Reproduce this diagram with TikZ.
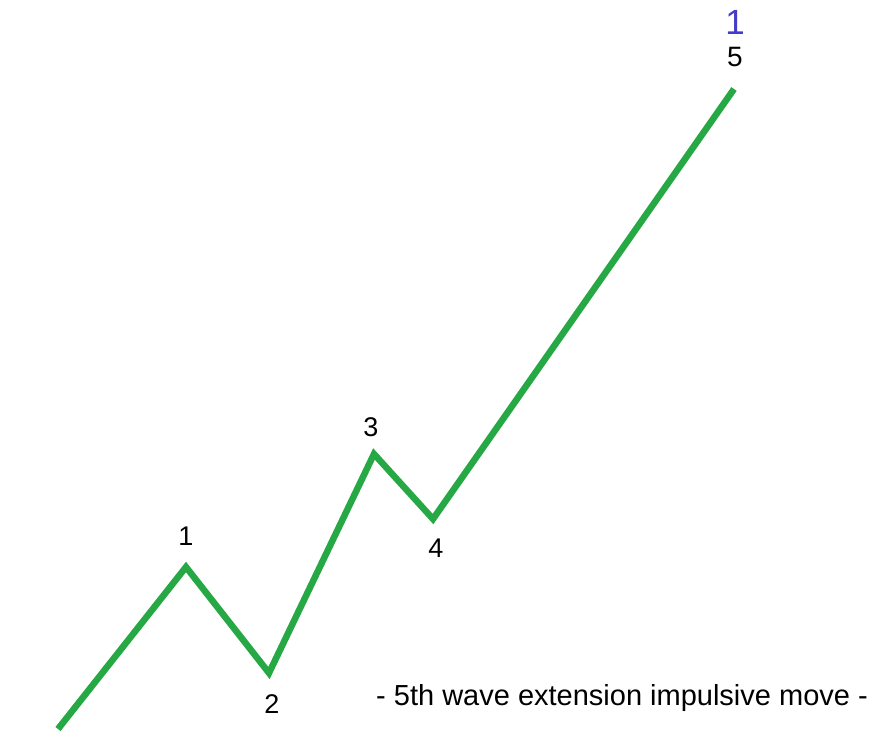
\documentclass[tikz,border=0pt]{standalone}
\usepackage{fontspec}
\setmainfont{Liberation Sans}
\definecolor{wavegreen}{RGB}{38,168,68}
\definecolor{waveblue}{RGB}{68,60,200}
\begin{document}
\begin{tikzpicture}[x=1pt,y=-1pt,
  wave/.style={draw=wavegreen,line width=6.5pt,line join=miter,line cap=butt},
  lbl/.style={inner sep=0pt,font=\fontsize{27}{27}\selectfont},
  note/.style={inner sep=0pt,font=\fontsize{29}{30}\selectfont}]
\useasboundingbox[fill=white] (0,0) rectangle (888,754);
\coordinate (p0) at (58,729);
\coordinate (p1) at (186,567);
\coordinate (p2) at (269,673);
\coordinate (p3) at (374,454);
\coordinate (p4) at (433,519);
\coordinate (p5) at (734,89);
\draw[wave] (p0) -- (p1) -- (p2) -- (p3) -- (p4) -- (p5);
\node[lbl] (l1) at (186,536) {1};
\node[lbl] (l2) at (272,704) {2};
\node[lbl] (l3) at (371,427) {3};
\node[lbl] (l4) at (436,548) {4};
\node[lbl,font=\fontsize{28}{28}\selectfont] (l5) at (735,57) {5};
\node[lbl,text=waveblue,font=\fontsize{35}{35}\selectfont] (top) at (735,22) {1};
\node[note,anchor=base] (txt) at (622,705) {- 5th wave extension impulsive move -};
\end{tikzpicture}
\end{document}
